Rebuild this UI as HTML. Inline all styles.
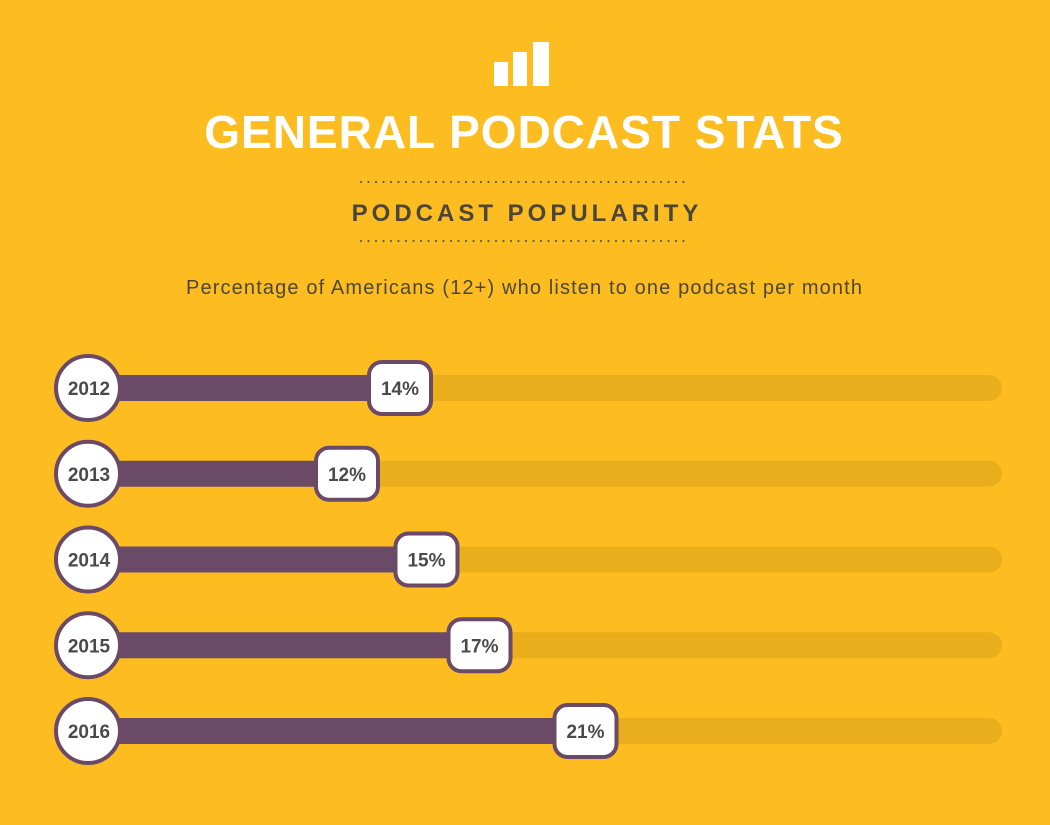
<!DOCTYPE html>
<html><head><meta charset="utf-8"><style>
html,body{margin:0;padding:0;background:#FDBD21;}
svg{display:block;font-family:"Liberation Sans",sans-serif;}
</style></head><body>
<svg id="chart" width="1050" height="825" viewBox="0 0 1050 825">
<rect width="1050" height="825" fill="#FDBD21"/>
<g fill="#fff">
<rect x="494" y="62" width="14" height="24"/><rect x="513" y="52" width="14" height="34"/><rect x="533" y="42" width="16" height="44"/>
</g>
<text x="524" y="148" text-anchor="middle" fill="#fff" font-size="46" font-weight="bold" letter-spacing="1">GENERAL PODCAST STATS</text>
<line x1="361" y1="182" x2="690" y2="182" stroke="#6b5a3a" stroke-width="2.2" stroke-linecap="round" stroke-dasharray="0 7.5"/>
<text x="527" y="221" text-anchor="middle" fill="#4d4637" font-size="24" font-weight="bold" letter-spacing="4">PODCAST POPULARITY</text>
<line x1="361" y1="241" x2="690" y2="241" stroke="#6b5a3a" stroke-width="2.2" stroke-linecap="round" stroke-dasharray="0 7.5"/>
<text x="186" y="294" textLength="676" lengthAdjust="spacing" fill="#4d4637" font-size="20">Percentage of Americans (12+) who listen to one podcast per month</text>
<g id="rows"></g>
</svg>
<script>
const years = ['2012','2013','2014','2015','2016'];
const values = [14, 12, 15, 17, 21];
const valueLabels = ['14%','12%','15%','17%','21%'];
const NS='http://www.w3.org/2000/svg';
const rows=document.getElementById('rows');
function xScale(v){return 29 + v*26.5;}
function yPos(i){return 388 + i*85.75;}
function mk(tag,attrs,parent){const e=document.createElementNS(NS,tag);for(const k in attrs)e.setAttribute(k,attrs[k]);parent.appendChild(e);return e;}
years.forEach((yr,i)=>{
  const cy=yPos(i), x=xScale(values[i]);
  const g=mk('g',{},rows);
  
  
  const tr=mk('rect',{x:60,y:cy-13,width:942,height:26,rx:13,fill:'#EAAE1C'},g);
  
  
  const bar=mk('rect',{x:80,y:cy-13,width:x-80,height:26,fill:'#6A4A66'},g);
  
  
  const c=mk('circle',{cx:88,cy:cy,r:32,fill:'#fff',stroke:'#6A4A66','stroke-width':4},g);
  
  
  const t=mk('text',{x:89,y:cy+7,'text-anchor':'middle','font-size':19,'font-weight':'bold',fill:'#4a4a4a'},g);
  t.textContent=yr;
  
  
  const b=mk('rect',{x:x-31,y:cy-26,width:62,height:52,rx:13,fill:'#fff',stroke:'#6A4A66','stroke-width':4},g);
  
  
  const vt=mk('text',{x:x,y:cy+7,'text-anchor':'middle','font-size':19,'font-weight':'bold',fill:'#4a4a4a'},g);
  vt.textContent=valueLabels[i];
  
  
});
</script>
</body></html>
